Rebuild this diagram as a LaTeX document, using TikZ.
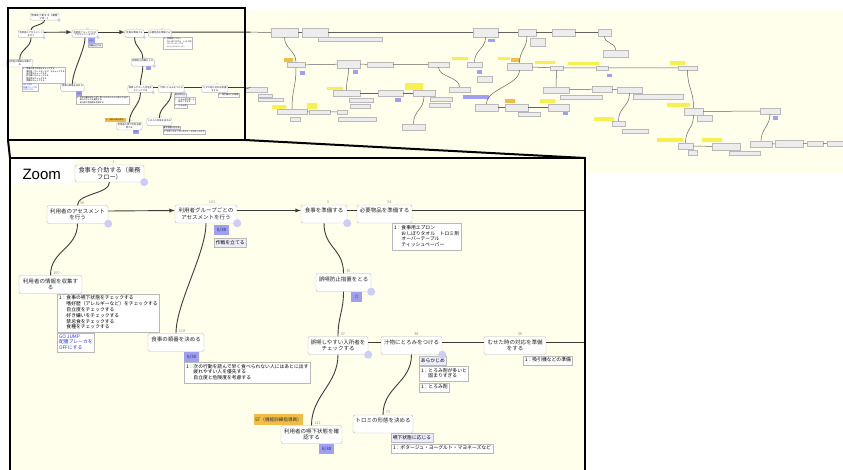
\documentclass[tikz,border=0pt]{standalone}
\usepackage{fontspec}
\setmainfont{Noto Sans CJK JP}
\setsansfont{Liberation Sans}
\definecolor{paper}{RGB}{255,255,236}
\definecolor{edge}{RGB}{60,60,60}
\definecolor{frame}{RGB}{185,185,185}
\definecolor{tagfill}{RGB}{160,160,240}
\definecolor{tagtext}{RGB}{35,35,120}
\definecolor{notefill}{RGB}{236,236,250}
\definecolor{dotfill}{RGB}{205,205,245}
\definecolor{stfill}{RGB}{240,190,70}
\definecolor{hilite}{RGB}{246,240,80}
\definecolor{jumpblue}{RGB}{45,55,225}
\newcommand{\memolines}[1]{\begin{tabular}{@{}l@{}l@{}}1：&#1\end{tabular}}
\newcommand{\flowbody}{%
\node[task, minimum width=69pt, minimum height=17pt, font=\fontsize{6.2}{7}\selectfont, label={[num]north:1}] (n1) at (109.5,173.5) {食事を介助する（業務\\フロー）};
\node[task, minimum width=61pt, label={[num]north:90}] (n90) at (77.5,214.5) {利用者のアセスメント\\を行う};
\node[task, minimum width=62pt, label={[num]north:101}] (n101) at (206,214) {利用者グループごとの\\アセスメントを行う};
\node[task, minimum width=63pt, label={[num]north:100}] (n100) at (50.5,284.5) {利用者の情報を収集す\\る};
\node[task, oneline, minimum width=56pt, label={[num]north:118}] (n118) at (176,342.5) {食事の順番を決める};
\node[task, oneline, minimum width=46pt, label={[num]north:3}] (n3) at (324,214) {食事を準備する};
\node[task, oneline, minimum width=55pt, label={[num]north:54}] (n54) at (384.5,214) {必要物品を準備する};
\node[task, oneline, minimum width=55pt, label={[num]north:35}] (n35) at (343.5,282.5) {誤嚥防止措置をとる};
\node[task, minimum width=60pt, label={[num]north:37}] (n37) at (338,345.5) {誤嚥しやすい入所者を\\チェックする};
\node[task, oneline, minimum width=61pt, label={[num]north:38}] (n38) at (411.5,345.5) {汁物にとろみをつける};
\node[task, minimum width=62pt, label={[num]north:39}] (n39) at (515,345.5) {むせた時の対応を準備\\をする};
\node[task, oneline, minimum width=60pt, label={[num]north:73}] (n73) at (383,424) {トロミの形態を決める};
\node[task, minimum width=61pt, label={[num]north:111}] (n111) at (311.5,434.5) {利用者の嚥下状態を確\\認する};
\coordinate (x54) at (600,210.5);
\coordinate (x39) at (600,342);
\node[tag, anchor=north west, xshift=8pt, yshift=-2pt] (t101) at (n101.south) {6/30};
\node[note, anchor=north west, yshift=-2pt] (p101) at (t101.south west) {作戦を立てる};
\node[memo, anchor=north west, xshift=6.5pt] (m100) at (n100.south) {\memolines{食事の嚥下状態をチェックする\\&嗜好歴（アレルギーなど）をチェックする\\&自立度をチェックする\\&好き嫌いをチェックする\\&禁忌食をチェックする\\&食種をチェックする}};
\node[memo, text=jumpblue, anchor=north west] (j100) at (m100.south west) {GO JUMP\\配膳ブレーカを\\OFFにする};
\node[tag, anchor=north west, xshift=8pt] (t118) at (n118.south) {6/30};
\node[memo, anchor=north west] (m118) at (t118.south west) {\memolines{次の行動を読んで早く食べられない人にはあとに出す\\&疲れやすい人を優先する\\&自立度と危険度を考慮する}};
\node[memo, anchor=north west, xshift=7.5pt] (m54) at (n54.south) {\memolines{食事用エプロン\\&おしぼりタオル　トロミ剤\\&オーバーテーブル\\&ティッシュペーパー}};
\node[tag, minimum width=11pt, anchor=north west, xshift=7.5pt] (t35) at (n35.south) {☆};
\node[note, anchor=north west, xshift=7.5pt, yshift=-1pt] (p38) at (n38.south) {あらかじめ};
\node[memo, anchor=north west, yshift=-1pt] (m38a) at (p38.south west) {\memolines{とろみ剤が多いと\\&固まりすぎる}};
\node[memo, anchor=north west, yshift=-1pt] (m38b) at (m38a.south west) {\memolines{とろみ剤}};
\node[memo, anchor=north west, xshift=8pt, yshift=-1pt] (m39) at (n39.south) {\memolines{吸引機などの準備}};
\node[note, anchor=north west, xshift=8pt] (p73) at (n73.south) {嚥下状態に応じる};
\node[memo, anchor=north west, yshift=-1pt] (m73) at (p73.south west) {\memolines{ポタージュ・ヨーグルト・マヨネーズなど}};
\node[staff, anchor=south east, xshift=-8pt] (s111) at (n111.north) {ST（機能訓練指導員）};
\node[tag, anchor=north west, xshift=7.5pt] (t111) at (n111.south) {6/30};
\draw[flow,->] ([yshift=3.5pt]n90.east) -- ([yshift=3.5pt]n101.west);
\draw[flow,->] ([yshift=3.5pt]n101.east) -- ([yshift=3.5pt]n3.west);
\draw[flow] ([yshift=3.5pt]n3.east) -- ([yshift=3.5pt]n54.west);
\draw[flow] ([yshift=3.5pt]n54.east) -- (x54);
\draw[flow] ([yshift=3.5pt]n37.east) -- ([yshift=3.5pt]n38.west);
\draw[flow] ([yshift=3.5pt]n38.east) -- ([yshift=3.5pt]n39.west);
\draw[flow] ([yshift=3.5pt]n39.east) -- (x39);
\draw[flow] (n1.south) .. controls +(0,12) and +(0,-12) .. (n90.north);
\draw[flow] (n90.south) .. controls +(0,25) and +(0,-25) .. (n100.north);
\draw[flow] (n101.south) .. controls +(0,30) and +(0,-30) .. (n118.north);
\draw[flow] (n3.south) .. controls +(0,25) and +(0,-25) .. (n35.north);
\draw[flow] (n35.south) .. controls +(0,20) and +(0,-20) .. (n37.north);
\draw[flow] (n37.south) .. controls +(0,30) and +(0,-30) .. (n111.north);
\draw[flow] (n38.south) .. controls +(0,28) and +(0,-28) .. (n73.north);
\fill[dotfill] (n1.south east) circle (4) (n90.south east) circle (4) (n101.south east) circle (4)
  (n3.south east) circle (4) (n35.south east) circle (4) (n37.south east) circle (4) (n38.south east) circle (4);
}
\begin{document}
\begin{tikzpicture}[x=1pt,y=-1pt]
\tikzstyle{task}=[draw=frame, fill=white, rounded corners=2pt, align=center, inner sep=1.5pt, minimum height=18pt, text=black!85, font=\fontsize{5.5}{6.6}\selectfont]
\tikzstyle{oneline}=[text depth=7.3pt]
\tikzstyle{num}=[font=\fontsize{3.8}{4}\selectfont, text=black!45, inner sep=0.6pt, anchor=south west, xshift=2pt]
\tikzstyle{tag}=[fill=tagfill, text=tagtext, inner sep=1.2pt, minimum width=15pt, minimum height=10pt, font=\fontsize{4.5}{5}\selectfont]
\tikzstyle{note}=[draw=frame, fill=notefill, inner sep=1.6pt, minimum height=9pt, font=\fontsize{4.8}{5.8}\selectfont]
\tikzstyle{memo}=[draw=frame, fill=white, inner sep=1.8pt, align=left, font=\fontsize{4.8}{5.8}\selectfont]
\tikzstyle{staff}=[fill=stfill, text=black!80, inner sep=1.5pt, minimum height=11pt, font=\fontsize{4.6}{5}\selectfont]
\tikzstyle{flow}=[draw=edge, line width=0.9pt, >=latex]
\tikzstyle{mini}=[draw=frame, fill=black!7, inner sep=0pt, line width=0.3pt]
\tikzstyle{mpur}=[fill=tagfill, inner sep=0pt]
\tikzstyle{myel}=[fill=hilite, inner sep=0pt]
\tikzstyle{morg}=[fill=stfill, inner sep=0pt]
\tikzstyle{link}=[draw=edge!80, line width=0.5pt]
\tikzset{sz/.style 2 args={minimum width=#1pt, minimum height=#2pt}}
\useasboundingbox (0,0) rectangle (843,470);
\fill[paper] (8,10) rectangle (843,173);
\begin{scope}[shift={(-1.5,-56.3)}, scale=0.42, transform shape, name prefix=ov-]
\flowbody
\end{scope}
\node[mini, sz={27}{9}] (r1) at (284.5,32.5) {};
\node[mini, sz={26}{9}] (r2) at (315,32.5) {};
\node[mini, sz={64}{4}] (r2l) at (350,39) {};
\node[mini, sz={25}{9}] (r3) at (485.5,32.5) {};
\node[mpur, sz={7}{3}] (r3t) at (491.5,40.5) {};
\node[mini, sz={18}{7}] (r4) at (527,32.5) {};
\node[mini, sz={15}{8}] (r4j) at (537.5,42) {};
\node[mini, sz={23}{7}] (r5) at (563.5,32.5) {};
\node[mini, sz={13}{7}] (r6) at (604.5,32.5) {};
\node[mini, sz={25}{7}] (r7) at (615.5,53.5) {};
\node[morg, sz={9}{4}] (r8o) at (288.5,60) {};
\node[mini, sz={18}{5}] (r8) at (296,65) {};
\node[mpur, sz={5}{4}] (r8t) at (302,73) {};
\node[mini, sz={23}{8}] (r9) at (348.5,64) {};
\node[mpur, sz={5}{4}] (r9t) at (355.5,72) {};
\node[mini, sz={26}{5}] (r10) at (380,64.5) {};
\node[mini, sz={21}{5}] (r11) at (438.5,64.5) {};
\node[mini, sz={21}{5}] (r12) at (459.5,89.5) {};
\node[myel, sz={16}{3}] (r13y) at (460,58.5) {};
\node[mini, sz={15}{5}] (r13) at (474.5,64.5) {};
\node[mpur, sz={5}{4}] (r13t) at (479.5,72) {};
\node[mini, sz={15}{6}] (r13j) at (484.5,79) {};
\node[myel, sz={12}{3}] (r14y) at (504,58.5) {};
\node[morg, sz={9}{4}] (r14o) at (515.5,60) {};
\node[mini, sz={25}{7}] (r14) at (519.5,66.5) {};
\node[myel, sz={20}{3}] (r15y) at (545,62.5) {};
\node[mini, sz={13}{4}] (r15) at (556.5,68) {};
\node[myel, sz={31}{3}] (r16y) at (583.5,63.5) {};
\node[mini, sz={12}{4}] (r16) at (602,68) {};
\node[mpur, sz={5}{3}] (r16t) at (609.5,75.5) {};
\node[myel, sz={15}{4}] (r17y) at (677.5,63) {};
\node[mini, sz={19}{4}] (r17) at (687.5,68) {};
\node[mini, sz={22}{5}] (r18) at (256,89.5) {};
\node[mini, sz={14}{3}] (r18a) at (265,95.5) {};
\node[mini, sz={25}{3}] (r18b) at (270.5,99.5) {};
\node[myel, sz={16}{3}] (r19y) at (335,88.5) {};
\node[mini, sz={27}{6}] (r19) at (346.5,93) {};
\node[mini, sz={24}{4}] (r19l) at (361,100) {};
\node[mini, sz={20}{4}] (r19j) at (360,106) {};
\node[mini, sz={25}{6}] (r20) at (390.5,93) {};
\node[mpur, sz={6}{4}] (r20t) at (398,100) {};
\node[myel, sz={18}{7}] (r21y) at (414,86.5) {};
\node[mini, sz={22}{6}] (r21) at (424,93) {};
\node[mini, sz={22}{4}] (r21a) at (441,99) {};
\node[mini, sz={21}{4}] (r21b) at (439.5,105) {};
\node[mini, sz={23}{6}] (r22) at (413.5,127) {};
\node[mini, sz={26}{6}] (r23) at (556,90) {};
\node[mini, sz={42}{4}] (r23l) at (581,97) {};
\node[mini, sz={20}{6}] (r24) at (602,89) {};
\node[mini, sz={25}{6}] (r25) at (629.5,90) {};
\node[mini, sz={50}{5}] (r25l) at (658,96.5) {};
\node[myel, sz={20}{4}] (r26y) at (604,119) {};
\node[mini, sz={13}{5}] (r26) at (618.5,123.5) {};
\node[mini, sz={26}{4}] (r26l) at (635,131) {};
\node[myel, sz={14}{4}] (r27y) at (279,107) {};
\node[mini, sz={30}{5}] (r27) at (292,111.5) {};
\node[mini, sz={10}{4}] (r27l) at (295,119) {};
\node[myel, sz={10}{6}] (r28y) at (312,106) {};
\node[mini, sz={21}{4}] (r28) at (319.5,112) {};
\node[mini, sz={10}{4}] (r29) at (342,112) {};
\node[mini, sz={38}{4}] (r29l) at (357,119) {};
\node[mpur, sz={26}{4}] (r30p) at (476,97) {};
\node[mini, sz={23}{7}] (r30) at (486.5,107.5) {};
\node[morg, sz={10}{4}] (r31o) at (510,101) {};
\node[mini, sz={23}{7}] (r31) at (516.5,107.5) {};
\node[mini, sz={22}{4}] (r31l) at (529,114) {};
\node[myel, sz={15}{4}] (r32y) at (547.5,101) {};
\node[mini, sz={21}{7}] (r32) at (558.5,107.5) {};
\node[mpur, sz={5}{3}] (r32t) at (565.5,113.5) {};
\node[myel, sz={23}{4}] (r33y) at (678.5,105) {};
\node[mini, sz={19}{7}] (r33) at (693.5,111.5) {};
\node[mini, sz={15}{6}] (r33l) at (705,118) {};
\node[mini, sz={20}{6}] (r34) at (770,111) {};
\node[mpur, sz={5}{4}] (r34t) at (775.5,118) {};
\node[myel, sz={26}{4}] (r35y) at (670,140) {};
\node[mini, sz={15}{6}] (r35) at (685.5,146) {};
\node[mini, sz={9}{5}] (r35l) at (692.5,152.5) {};
\node[myel, sz={20}{4}] (r36y) at (712,140) {};
\node[mini, sz={28}{7}] (r36) at (726,146.5) {};
\node[mini, sz={31}{4}] (r36l) at (744.5,153) {};
\node[mini, sz={22}{6}] (r37) at (761,144) {};
\node[mini, sz={28}{7}] (r38) at (789,143.5) {};
\node[mini, sz={16}{5}] (r39) at (815,143.5) {};
\node[mini, sz={20}{5}] (r40) at (837,143.5) {};
\draw[link] (ov-x54) -- (r1.west);
\draw[link] (r1) -- (r2) -- (r3) -- (r4) -- (r5) -- (r6);
\draw[link] (r6.south) .. controls +(0,8) and +(0,-8) .. (r7.north);
\draw[link] (r1.south) .. controls +(0,12) and +(0,-12) .. (r8.north);
\draw[link] (r8) -- (r9) -- (r10) -- (r11);
\draw[link] (r11.south) .. controls +(0,10) and +(0,-10) .. (r12.north);
\draw[link] (r3.south) .. controls +(0,12) and +(0,-12) .. (r13.north);
\draw[link] (r4.south) .. controls +(0,12) and +(0,-12) .. (r14.north);
\draw[link] (r14) -- (r15) -- (r16) -- (r17);
\draw[link] (r15.south) .. controls +(0,8) and +(0,-8) .. (r23.north);
\draw[link] (r23) -- (r24) -- (r25);
\draw[link] (r25.south) .. controls +(0,14) and +(0,-14) .. (r26.north);
\draw[link] (r17.south) .. controls +(0,18) and +(0,-18) .. (r33.north);
\draw[link] (r33) -- (r34);
\draw[link] (r34.south) .. controls +(0,12) and +(0,-12) .. (r37.north);
\draw[link] (r37) -- (r38) -- (r39) -- (r40);
\draw[link] (r33.south) .. controls +(0,14) and +(0,-14) .. (r35.north);
\draw[link] (r35) -- (r36);
\draw[link] (ov-x39) -- (r18.west);
\draw[link] (r9.south) .. controls +(0,10) and +(0,-10) .. (r19.north);
\draw[link] (r19) -- (r20) -- (r21);
\draw[link] (r21.south) .. controls +(0,14) and +(0,-14) .. (r22.north);
\draw[link] (r8.south) .. controls +(0,20) and +(0,-20) .. (r27.north);
\draw[link] (r27) -- (r28) -- (r29);
\draw[link] (r14.south) .. controls +(0,15) and +(0,-15) .. (r30.north);
\draw[link] (r30) -- (r31) -- (r32);
\draw[line width=2pt] (8,8) rectangle (245,140);
\draw[line width=2pt] (8,140) -- (10,158);
\draw[line width=2pt] (245,140) -- (585,158);
\begin{scope}
\clip (10,158) rectangle (585,475);
\fill[paper] (10,158) rectangle (585,475);
\flowbody
\end{scope}
\node[fill=white, anchor=north west, inner sep=0pt, minimum width=63pt, text height=21pt, text depth=4pt, font=\sffamily\fontsize{15}{15}\selectfont] (zoomlabel) at (10,158) {Zoom};
\draw[line width=2.5pt] (10,476) -- (10,158) -- (585,158) -- (585,476);
\end{tikzpicture}
\end{document}
